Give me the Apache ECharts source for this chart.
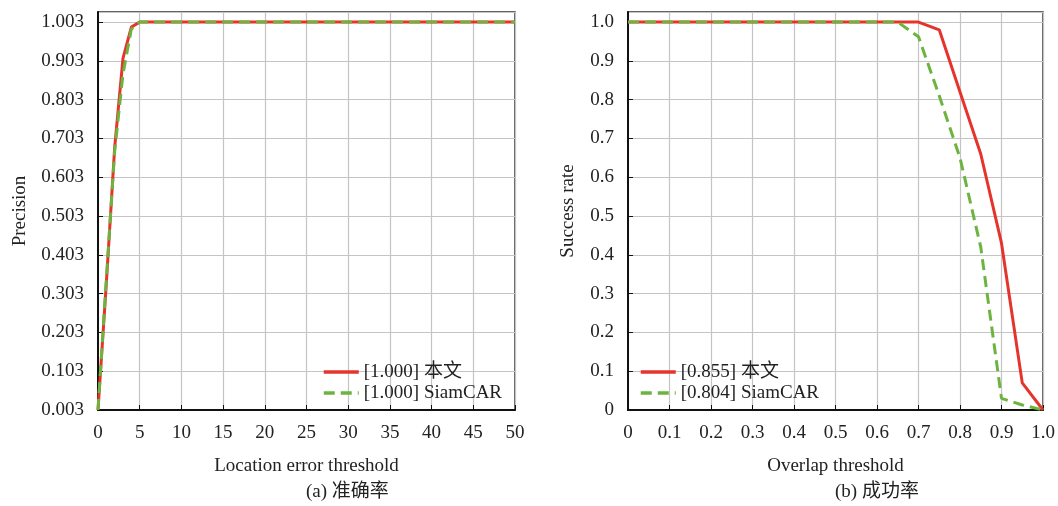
<!DOCTYPE html>
<html>
<head>
<meta charset="utf-8">
<script src="https://cdn.jsdelivr.net/npm/echarts@6/dist/echarts.min.js"></script>
<style>
html,body{margin:0;padding:0;background:#fff;}
#c{width:1058px;height:506px;}
</style>
</head>
<body>
<div id="c"></div>
<script>
// ---- Data ----
const locX = [0, 1, 2, 3, 4, 5, 10, 15, 20, 25, 30, 35, 40, 45, 50];
const precOurs = [0.003, 0.33, 0.68, 0.91, 0.99, 1.003, 1.003, 1.003, 1.003, 1.003, 1.003, 1.003, 1.003, 1.003, 1.003];
const precSiam = [0.003, 0.34, 0.67, 0.87, 0.985, 1.003, 1.003, 1.003, 1.003, 1.003, 1.003, 1.003, 1.003, 1.003, 1.003];

const overlapX = [0, 0.05, 0.1, 0.15, 0.2, 0.25, 0.3, 0.35, 0.4, 0.45, 0.5, 0.55, 0.6, 0.65, 0.7, 0.75, 0.8, 0.85, 0.9, 0.95, 1.0];
const succOurs = [1, 1, 1, 1, 1, 1, 1, 1, 1, 1, 1, 1, 1, 1, 1.0, 0.98, 0.82, 0.66, 0.43, 0.07, 0];
const succSiam = [1, 1, 1, 1, 1, 1, 1, 1, 1, 1, 1, 1, 1, 1, 0.962, 0.81, 0.65, 0.42, 0.03, 0.013, 0];

const legendLeft = ['[1.000] 本文', '[1.000] SiamCAR'];
const legendRight = ['[0.855] 本文', '[0.804] SiamCAR'];

const leftXTicks = {min: 0, max: 50, interval: 5};
const leftYTicks = {min: 0.003, max: 1.029, interval: 0.1};
const rightXTicks = {min: 0, max: 1, interval: 0.1};
const rightYTicks = {min: 0, max: 1.026, interval: 0.1};

const titles = {
  leftX: 'Location error threshold', leftY: 'Precision', leftCap: '(a) 准确率',
  rightX: 'Overlap threshold', rightY: 'Success rate', rightCap: '(b) 成功率'
};

// ---- Styles ----
const RED = '#e5342c';
const GREEN = '#6cb43f';
const FONT = "'Liberation Serif', 'Times New Roman', 'Noto Sans CJK SC', serif";
const FS = 19;

function pairs(xs, ys) { return xs.map((x, i) => [x, ys[i]]); }

function xAxis(gi, t, name, fmt) {
  return {
    type: 'value', gridIndex: gi, min: t.min, max: t.max, interval: t.interval,
    name: name, nameLocation: 'middle', nameGap: 47,
    nameTextStyle: {fontFamily: FONT, fontSize: FS, color: '#222'},
    axisLine: {show: true, lineStyle: {color: '#111', width: 2}},
    axisTick: {show: true, inside: true, length: 5, lineStyle: {color: '#111', width: 1}},
    axisLabel: {fontFamily: FONT, fontSize: FS, color: '#222', margin: 14, formatter: fmt},
    splitLine: {show: true, lineStyle: {color: '#c4c4c4', width: 1.2}}
  };
}
function yAxis(gi, t, name, fmt, gap) {
  return {
    type: 'value', gridIndex: gi, min: t.min, max: t.max, interval: t.interval,
    name: name, nameLocation: 'middle', nameGap: gap, nameRotate: 90,
    nameTextStyle: {fontFamily: FONT, fontSize: FS, color: '#222'},
    axisLine: {show: true, lineStyle: {color: '#111', width: 2}},
    axisTick: {show: true, inside: true, length: 5, lineStyle: {color: '#111', width: 1}},
    axisLabel: {fontFamily: FONT, fontSize: FS, color: '#222', margin: 14, formatter: fmt, showMaxLabel: false},
    splitLine: {show: true, lineStyle: {color: '#c4c4c4', width: 1.2}}
  };
}
function line(name, xi, yi, data, color, dashed) {
  return {
    type: 'line', name: name, xAxisIndex: xi, yAxisIndex: yi, data: data,
    symbol: 'none', silent: true, animation: false,
    lineStyle: {color: color, width: 3, type: dashed ? [11, 6] : 'solid'},
    itemStyle: {color: color}
  };
}
function legend(data, left) {
  return {
    data: data, orient: 'vertical', left: left, top: 362, padding: 0,
    itemWidth: 35, itemHeight: 12, itemGap: 1,
    itemStyle: {opacity: 0},
    lineStyle: {width: 3.5},
    textStyle: {fontFamily: FONT, fontSize: FS, color: '#222', lineHeight: 20},
    selectedMode: false
  };
}

const chart = echarts.init(document.getElementById('c'), null, {renderer: 'canvas'});
chart.setOption({
  backgroundColor: '#fff',
  animation: false,
  grid: [
    {left: 98, right: 543, top: 12, bottom: 96, show: true, borderColor: '#333', borderWidth: 1.5, backgroundColor: 'transparent'},
    {left: 628, right: 15, top: 12, bottom: 96, show: true, borderColor: '#333', borderWidth: 1.5, backgroundColor: 'transparent'}
  ],
  xAxis: [
    xAxis(0, leftXTicks, titles.leftX, v => String(Math.round(v))),
    xAxis(1, rightXTicks, titles.rightX, v => (Math.abs(v) < 1e-9 ? '0' : v.toFixed(1)))
  ],
  yAxis: [
    yAxis(0, leftYTicks, titles.leftY, v => v.toFixed(3), 68),
    yAxis(1, rightYTicks, titles.rightY, v => (Math.abs(v) < 1e-9 ? '0' : v.toFixed(1)), 50)
  ],
  legend: [legend(legendLeft, 322), legend(legendRight, 639)],
  series: [
    line(legendLeft[0], 0, 0, pairs(locX, precOurs), RED, false),
    line(legendLeft[1], 0, 0, pairs(locX, precSiam), GREEN, true),
    line(legendRight[0], 1, 1, pairs(overlapX, succOurs), RED, false),
    line(legendRight[1], 1, 1, pairs(overlapX, succSiam), GREEN, true)
  ],
  graphic: [
    {type: 'text', left: 306, top: 483, style: {text: titles.leftCap, font: FS + 'px ' + FONT, fill: '#222', textAlign: 'center'}},
    {type: 'text', left: 835, top: 483, style: {text: titles.rightCap, font: FS + 'px ' + FONT, fill: '#222', textAlign: 'center'}}
  ]
});
</script>
</body>
</html>
